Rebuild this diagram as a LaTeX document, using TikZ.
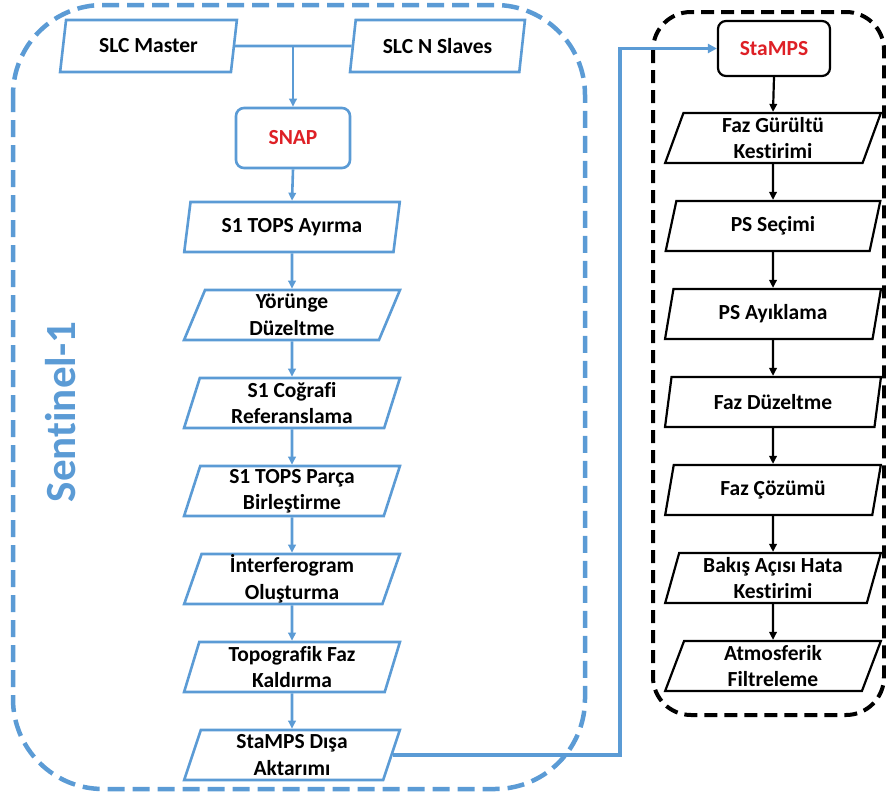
\documentclass[tikz,border=0pt]{standalone}
\usepackage{fontspec}
\setmainfont{Carlito}[Ligatures=NoCommon]
\usetikzlibrary{shapes.geometric,arrows.meta}
\definecolor{sblue}{RGB}{91,155,213}
\definecolor{sred}{RGB}{222,32,38}
\tikzset{
  para/.style={trapezium, trapezium left angle=76, trapezium right angle=104,
    trapezium stretches=true, minimum width=216pt, minimum height=50pt,
    inner sep=0pt, align=center, font=\bfseries\fontsize{21.5}{26.5}\selectfont, fill=white},
  bpara/.style={para, draw=sblue, line width=2.6pt},
  kpara/.style={para, draw=black, line width=2.2pt},
  bflow/.style={draw=sblue, line width=2.6pt, -{Triangle[length=8pt,width=7.5pt]}},
  kflow/.style={draw=black, line width=2.2pt, -{Triangle[length=8pt,width=7.5pt]}},
  tool/.style={rounded corners=8pt, align=center, fill=white,
    font=\bfseries\fontsize{21.5}{26.5}\selectfont, text=sred}
}
\begin{document}
\begin{tikzpicture}[x=1pt,y=-1pt]
\useasboundingbox (0,0) rectangle (886,798);
% containers
\draw[sblue, line width=4.5pt, dash pattern=on 17pt off 8pt, rounded corners=90pt]
  (13,5) rectangle (585,789);
\draw[black, line width=4pt, dash pattern=on 13pt off 7pt, rounded corners=38pt]
  (653,12) rectangle (884,715);
% label
\node[rotate=90, text=sblue, font=\bfseries\fontsize{43}{50}\selectfont] (sen) at (61,412) {Sentinel-1};
% left column
\node[bpara, minimum width=177pt, minimum height=52pt] (master) at (148.5,46) {SLC Master};
\node[bpara, minimum width=175pt, minimum height=52pt] (slaves) at (437.5,46) {SLC N Slaves};
\node[tool, draw=sblue, line width=2.6pt, minimum width=114pt, minimum height=60pt] (snap) at (293,138) {SNAP};
\node[bpara] (l1) at (292,227) {S1 TOPS Ayırma};
\node[bpara] (l2) at (292,315) {Yörünge\\Düzeltme};
\node[bpara] (l3) at (292,403) {S1 Coğrafi\\Referanslama};
\node[bpara] (l4) at (292,491) {S1 TOPS Parça\\Birleştirme};
\node[bpara] (l5) at (292,579) {İnterferogram\\Oluşturma};
\node[bpara] (l6) at (292,667) {Topografik Faz\\Kaldırma};
\node[bpara] (l7) at (292,755) {StaMPS Dışa\\Aktarımı};
% right column
\node[tool, draw=black, line width=2.2pt, minimum width=112pt, minimum height=55pt] (stamps) at (774,48.5) {StaMPS};
\node[kpara] (r1) at (773,138) {Faz Gürültü\\Kestirimi};
\node[kpara] (r2) at (773,226) {PS Seçimi};
\node[kpara] (r3) at (773,314) {PS Ayıklama};
\node[kpara] (r4) at (773,402) {Faz Düzeltme};
\node[kpara] (r5) at (773,490) {Faz Çözümü};
\node[kpara] (r6) at (773,578) {Bakış Açısı Hata\\Kestirimi};
\node[kpara] (r7) at (773,666) {Atmosferik\\Filtreleme};
% connectors
\coordinate (j) at (snap.north |- master.east);
\draw[sblue, line width=2.6pt] (master.east) -- (slaves.west);
\draw[bflow] (j) -- (snap.north);
\draw[bflow] (snap.south) -- (l1.north);
\foreach \a/\b in {l1/l2,l2/l3,l3/l4,l4/l5,l5/l6,l6/l7}
  \draw[bflow] (\a.south) -- (\b.north);
\draw[kflow] (stamps.south) -- (r1.north);
\foreach \a/\b in {r1/r2,r2/r3,r3/r4,r4/r5,r5/r6,r6/r7}
  \draw[kflow] (\a.south) -- (\b.north);
\coordinate (c1) at (620,0);
\draw[sblue, line width=3.6pt, -{Triangle[length=9pt,width=9pt]}]
  (l7.east) -- (c1 |- l7.east) -- (c1 |- stamps.west) -- (stamps.west);
\end{tikzpicture}
\end{document}
